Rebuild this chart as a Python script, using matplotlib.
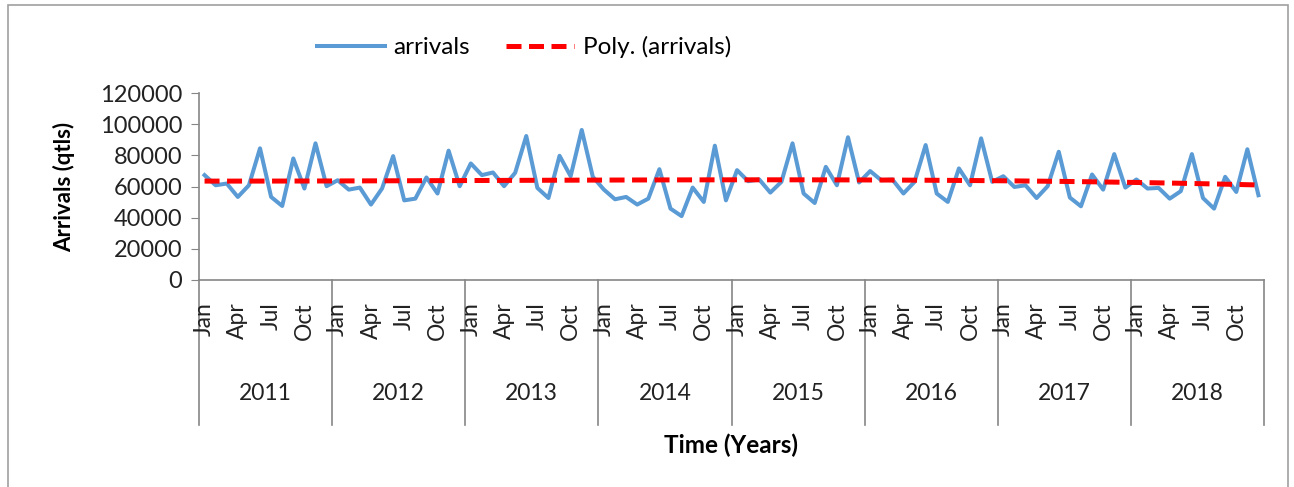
import numpy as np
import matplotlib
matplotlib.use("Agg")
import matplotlib.pyplot as plt
from matplotlib.patches import Rectangle
import matplotlib.transforms as mtransforms

plt.rcParams['font.family'] = ['Lato', 'DejaVu Sans']

years = [2011, 2012, 2013, 2014, 2015, 2016, 2017, 2018]
month_labels = ['Jan', 'Apr', 'Jul', 'Oct']
month_label_idx = [0, 3, 6, 9]

# monthly arrivals (qtls), Jan 2011 .. Dec 2018
arr_2011 = [67300, 60800, 61900, 53300, 60800, 84500, 53300, 47500, 78000, 58700, 87700, 60200]
arr_2012 = [64000, 58000, 59300, 48400, 58700, 79500, 51100, 52200, 65800, 55500, 83000, 60200]
arr_2013 = [74800, 67300, 69000, 60200, 68800, 92400, 59100, 52600, 79700, 66600, 96300, 66200]
arr_2014 = [58000, 51800, 53300, 48400, 52200, 71100, 45800, 41000, 59300, 50100, 86200, 51100]
arr_2015 = [70500, 63400, 64500, 56100, 63000, 87700, 55500, 49400, 72600, 60800, 91600, 62600]
arr_2016 = [69900, 64000, 64500, 55500, 63000, 86600, 55500, 50100, 71600, 60800, 90900, 63000]
arr_2017 = [66600, 59700, 60800, 52600, 60200, 82300, 52900, 47300, 67700, 58000, 80800, 59300]
arr_2018 = [64500, 58700, 59100, 52200, 57000, 80800, 52600, 45800, 66200, 56500, 83900, 54400]

arrivals = np.array(arr_2011 + arr_2012 + arr_2013 + arr_2014 +
                    arr_2015 + arr_2016 + arr_2017 + arr_2018)
n = len(arrivals)
x = np.arange(n) + 0.5

# polynomial trendline, like Excel's
coef = np.polyfit(np.arange(1, n + 1), arrivals, 3)
trend = np.polyval(coef, np.arange(1, n + 1))

W, H = 1294, 487
fig = plt.figure(figsize=(W / 100, H / 100), dpi=100)
ax = fig.add_axes([199 / W, 1 - 280 / H, (1264 - 199) / W, (280 - 93) / H])

gray = '#868686'
l1, = ax.plot(x, arrivals, color='#5B9BD5', lw=2.9, solid_joinstyle='round', label='arrivals')
l2, = ax.plot(x, trend, color='#FF0000', lw=3.6, dashes=(3, 1.5), label='Poly. (arrivals)')

ax.set_xlim(0, n)
ax.set_ylim(0, 120000)
ax.set_yticks(np.arange(0, 120001, 20000))
ax.set_yticklabels([str(v) for v in range(0, 120001, 20000)], fontsize=17, color='#222222')
ax.tick_params(axis='y', length=6, color=gray, direction='out', pad=6)
ax.set_xticks([])
for s in ['top', 'right']:
    ax.spines[s].set_visible(False)
for s in ['left', 'bottom']:
    ax.spines[s].set_color(gray)
    ax.spines[s].set_linewidth(1.2)

# multi-level category axis
trans = mtransforms.blended_transform_factory(ax.transData, ax.transAxes)
ph = 280 - 93
for k in range(len(years) + 1):
    ax.plot([k * 12, k * 12], [0, -(425 - 280) / ph], color=gray, lw=1.2,
            transform=trans, clip_on=False)
for k, yr in enumerate(years):
    for lab, mi in zip(month_labels, month_label_idx):
        ax.text(k * 12 + mi + 0.5, -(302 - 280) / ph, lab, rotation=90,
                ha='center', va='top', fontsize=16.5, color='#222222', transform=trans)
    ax.text(k * 12 + 6, -(394 - 280) / ph, str(yr), ha='center', va='center',
            fontsize=16.5, color='#222222', transform=trans)

ax.set_ylabel('Arrivals (qtls)', fontsize=16, fontweight='bold', labelpad=18)
fig.text(731 / W, 1 - 445 / H, 'Time (Years)', ha='center', va='center',
         fontsize=17.5, fontweight='bold')

fig.legend(handles=[l1, l2], loc='center', bbox_to_anchor=(524 / W, 1 - 47 / H),
           ncol=2, frameon=False, fontsize=17.5, handlelength=2.8, columnspacing=1.5,
           handletextpad=0.35)

# chart area border
fig.patches.append(Rectangle((8 / W, -0.02), (1288 - 8) / W, 1.02 - 5 / H,
                             transform=fig.transFigure, fill=False,
                             edgecolor='#A0A0A0', lw=1.2))

fig.savefig('out.png', dpi=100)
